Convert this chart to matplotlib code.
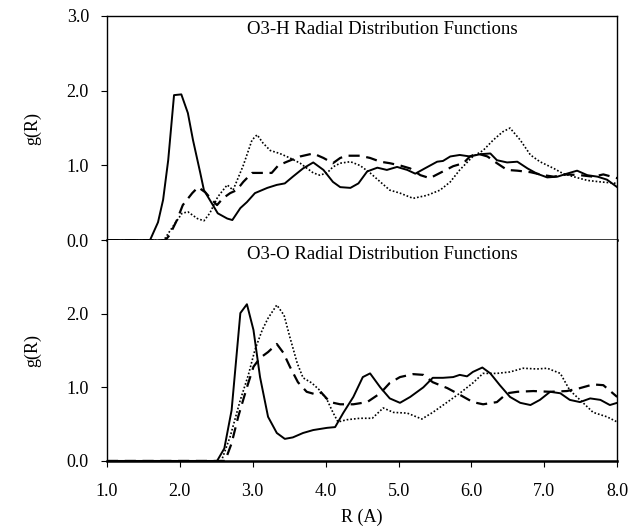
import numpy as np
import matplotlib
matplotlib.use("Agg")
import matplotlib.pyplot as plt

plt.rcParams['font.family'] = ['Liberation Serif', 'DejaVu Serif']

# O3-H radial distribution functions (top panel)
h_solid_x = [1.0, 1.59, 1.70, 1.77, 1.84, 1.92, 2.02, 2.11, 2.18, 2.28, 2.33, 2.41, 2.52, 2.65, 2.72,
             2.83, 2.92, 3.03, 3.20, 3.33, 3.44, 3.55, 3.69, 3.83, 3.97, 4.10, 4.20, 4.34, 4.45,
             4.57, 4.71, 4.84, 4.98, 5.12, 5.23, 5.36, 5.53, 5.61, 5.71, 5.84, 5.98, 6.12, 6.26,
             6.35, 6.49, 6.63, 6.77, 6.90, 7.04, 7.18, 7.31, 7.45, 7.59, 7.73, 7.86, 8.0]
h_solid_y = [0.0, 0.0, 0.24, 0.54, 1.07, 1.94, 1.95, 1.70, 1.34, 0.90, 0.67, 0.54, 0.36, 0.29, 0.27,
             0.43, 0.51, 0.63, 0.70, 0.74, 0.76, 0.85, 0.96, 1.04, 0.94, 0.78, 0.71, 0.70, 0.76,
             0.92, 0.97, 0.94, 0.98, 0.94, 0.89, 0.96, 1.05, 1.06, 1.12, 1.14, 1.12, 1.15, 1.16,
             1.07, 1.04, 1.05, 0.96, 0.89, 0.84, 0.85, 0.89, 0.93, 0.87, 0.85, 0.81, 0.71]

h_dash_x = [1.0, 1.80, 1.86, 1.96, 2.04, 2.17, 2.25, 2.35, 2.44, 2.51, 2.59, 2.69, 2.78, 2.87, 2.99,
            3.14, 3.26, 3.35, 3.47, 3.65, 3.83, 3.97, 4.10, 4.20, 4.29, 4.47, 4.61, 4.75, 4.88,
            5.02, 5.16, 5.30, 5.43, 5.57, 5.75, 5.89, 5.98, 6.08, 6.22, 6.35, 6.49, 6.63, 6.81,
            6.99, 7.13, 7.31, 7.49, 7.67, 7.81, 8.0]
h_dash_y = [0.0, 0.0, 0.07, 0.27, 0.47, 0.63, 0.71, 0.64, 0.54, 0.47, 0.56, 0.63, 0.67, 0.78, 0.90,
            0.90, 0.90, 1.00, 1.05, 1.12, 1.16, 1.10, 1.03, 1.10, 1.13, 1.13, 1.10, 1.05, 1.03,
            1.00, 0.96, 0.87, 0.83, 0.90, 0.99, 1.03, 1.12, 1.16, 1.12, 1.03, 0.94, 0.93, 0.91,
            0.87, 0.85, 0.88, 0.87, 0.85, 0.88, 0.83]

h_dot_x = [1.0, 1.78, 1.84, 1.93, 2.03, 2.11, 2.24, 2.33, 2.41, 2.52, 2.65, 2.73, 2.87, 2.99, 3.06,
           3.14, 3.24, 3.37, 3.51, 3.65, 3.83, 3.92, 4.02, 4.10, 4.20, 4.34, 4.47, 4.61, 4.75,
           4.88, 5.02, 5.20, 5.39, 5.57, 5.71, 5.84, 6.02, 6.16, 6.30, 6.43, 6.53, 6.67, 6.81,
           6.94, 7.13, 7.26, 7.40, 7.59, 7.77, 8.0]
h_dot_y = [0.0, 0.0, 0.09, 0.22, 0.36, 0.38, 0.29, 0.26, 0.36, 0.58, 0.74, 0.67, 1.00, 1.34, 1.41,
           1.30, 1.20, 1.16, 1.10, 1.03, 0.90, 0.87, 0.90, 0.98, 1.03, 1.05, 1.00, 0.90, 0.78,
           0.67, 0.63, 0.56, 0.60, 0.67, 0.78, 0.94, 1.12, 1.20, 1.34, 1.45, 1.50, 1.34, 1.14,
           1.05, 0.96, 0.89, 0.85, 0.80, 0.78, 0.76]

# O3-O radial distribution functions (bottom panel)
o_solid_x = [1.0, 2.51, 2.61, 2.71, 2.83, 2.92, 3.01, 3.10, 3.21, 3.33, 3.44, 3.55, 3.69, 3.83, 4.02,
             4.13, 4.24, 4.38, 4.51, 4.61, 4.75, 4.88, 5.02, 5.16, 5.34, 5.47, 5.61, 5.75, 5.84,
             5.94, 6.02, 6.15, 6.26, 6.39, 6.53, 6.67, 6.81, 6.94, 7.08, 7.22, 7.35, 7.49, 7.63,
             7.77, 7.90, 8.0]
o_solid_y = [0.0, 0.0, 0.17, 0.69, 2.01, 2.13, 1.78, 1.14, 0.60, 0.38, 0.30, 0.32, 0.38, 0.42, 0.45,
             0.46, 0.65, 0.87, 1.14, 1.19, 1.00, 0.85, 0.79, 0.87, 1.00, 1.13, 1.13, 1.14, 1.17,
             1.15, 1.21, 1.27, 1.19, 1.03, 0.87, 0.79, 0.76, 0.83, 0.94, 0.92, 0.83, 0.80, 0.85,
             0.83, 0.76, 0.79]

o_dash_x = [1.0, 2.62, 2.71, 2.80, 2.92, 3.01, 3.10, 3.21, 3.33, 3.42, 3.51, 3.62, 3.74, 3.88, 3.94,
            4.06, 4.20, 4.38, 4.57, 4.75, 4.88, 5.02, 5.20, 5.34, 5.47, 5.67, 5.84, 6.02, 6.16,
            6.35, 6.49, 6.63, 6.85, 7.08, 7.31, 7.49, 7.67, 7.81, 8.0]
o_dash_y = [0.0, 0.0, 0.24, 0.60, 1.00, 1.28, 1.40, 1.48, 1.59, 1.47, 1.28, 1.07, 0.94, 0.90, 0.93,
            0.80, 0.77, 0.77, 0.80, 0.92, 1.06, 1.14, 1.18, 1.17, 1.07, 0.99, 0.90, 0.80, 0.77,
            0.80, 0.92, 0.94, 0.95, 0.94, 0.95, 0.99, 1.04, 1.03, 0.87]

o_dot_x = [1.0, 2.57, 2.69, 2.83, 2.94, 3.03, 3.13, 3.21, 3.33, 3.43, 3.51, 3.61, 3.69, 3.81, 3.92,
           4.02, 4.10, 4.17, 4.29, 4.47, 4.64, 4.79, 4.93, 5.12, 5.32, 5.47, 5.67, 5.84, 6.02,
           6.16, 6.35, 6.53, 6.71, 6.90, 7.04, 7.22, 7.35, 7.49, 7.67, 7.86, 8.0]
o_dot_y = [0.0, 0.0, 0.33, 0.83, 1.17, 1.51, 1.78, 1.94, 2.12, 1.98, 1.68, 1.33, 1.13, 1.06, 0.96,
           0.83, 0.66, 0.53, 0.56, 0.58, 0.58, 0.72, 0.66, 0.65, 0.57, 0.66, 0.80, 0.92, 1.06,
           1.19, 1.19, 1.21, 1.26, 1.25, 1.26, 1.19, 0.96, 0.83, 0.66, 0.60, 0.53]

x_ticks = [1.0, 2.0, 3.0, 4.0, 5.0, 6.0, 7.0, 8.0]

fig = plt.figure(figsize=(6.33, 5.28), dpi=100)
ax1 = fig.add_axes([0.169, 0.545, 0.806, 0.425])
ax2 = fig.add_axes([0.169, 0.127, 0.806, 0.418], sharex=ax1)

def draw(ax, sx, sy, dx, dy, px, py, title):
    ax.plot(sx, sy, '-', color='black', lw=1.4)
    ax.plot(dx, dy, color='black', lw=1.6, linestyle=(0, (5, 3)))
    ax.plot(px, py, color='black', lw=1.2, linestyle=(0, (1, 1.2)))
    ax.text(0.54, 0.975, title, transform=ax.transAxes, ha='center', va='top', fontsize=13.5)
    ax.set_xlim(1.0, 8.0)
    ax.set_ylim(0.0, 3.0)
    ax.set_ylabel('g(R)', fontsize=13, labelpad=18)
    ax.tick_params(axis='y', direction='out', length=4, pad=9, labelsize=13)
    for s in ax.spines.values():
        s.set_linewidth(1.0)

draw(ax1, h_solid_x, h_solid_y, h_dash_x, h_dash_y, h_dot_x, h_dot_y,
     'O3-H Radial Distribution Functions')
draw(ax2, o_solid_x, o_solid_y, o_dash_x, o_dash_y, o_dot_x, o_dot_y,
     'O3-O Radial Distribution Functions')

ax1.set_yticks([0.0, 1.0, 2.0, 3.0])
ax1.set_yticklabels(['0.0', '1.0', '2.0', '3.0'])
ax1.tick_params(axis='x', bottom=False, labelbottom=False)
ax1.spines['bottom'].set_linewidth(1.8)

ax2.set_yticks([0.0, 1.0, 2.0])
ax2.set_yticklabels(['0.0', '1.0', '2.0'])
ax2.set_xticks(x_ticks)
ax2.set_xticklabels(['%.1f' % t for t in x_ticks])
ax2.tick_params(axis='x', direction='out', length=4, labelsize=13, pad=12)
ax2.spines['top'].set_visible(False)
ax2.spines['bottom'].set_linewidth(1.8)
ax2.set_xlabel('R (A)', fontsize=13, labelpad=6)

fig.savefig('out.png', dpi=100)
